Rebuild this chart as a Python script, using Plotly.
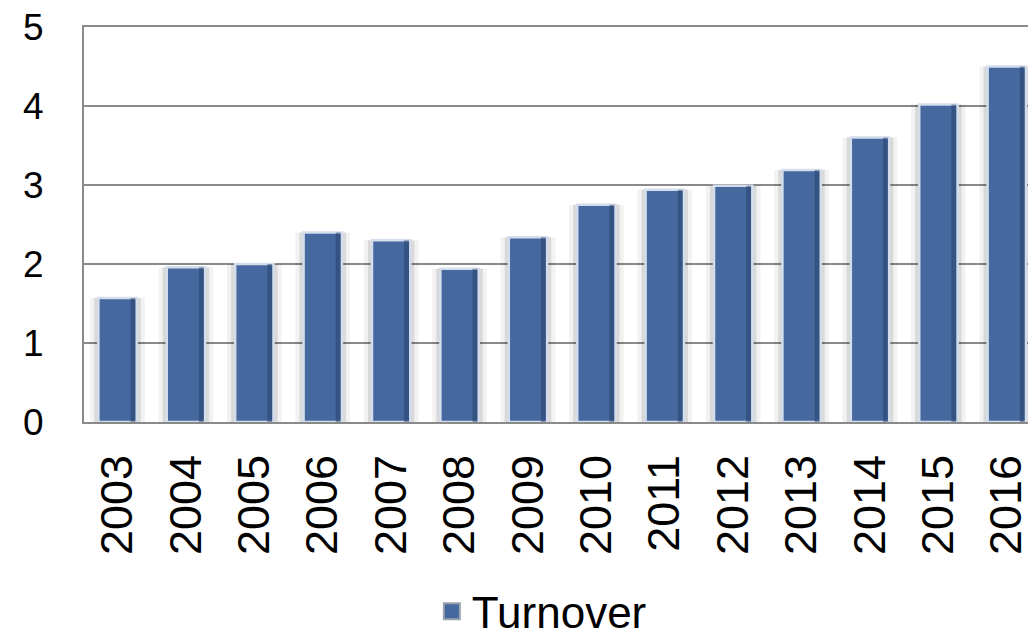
import plotly.graph_objects as go

years = ["2003", "2004", "2005", "2006", "2007", "2008", "2009",
         "2010", "2011", "2012", "2013", "2014", "2015", "2016"]
turnover = [1.57, 1.96, 2.0, 2.4, 2.3, 1.94, 2.34,
            2.75, 2.94, 2.99, 3.19, 3.6, 4.02, 4.5]
y_ticks = [0, 1, 2, 3, 4, 5]

BAR_COLOR = "#45699f"
EDGE_COLOR = "#d3ddec"

fig = go.Figure()

# soft shadow behind bars
fig.add_trace(go.Bar(x=years, y=turnover, width=0.80, showlegend=False,
                     hoverinfo="skip",
                     marker=dict(color="rgba(0,0,0,0.05)", line=dict(width=0))))
fig.add_trace(go.Bar(x=years, y=turnover, width=0.68, showlegend=False,
                     hoverinfo="skip",
                     marker=dict(color="rgba(0,0,0,0.10)", line=dict(width=0))))
# main bars
fig.add_trace(go.Bar(x=years, y=turnover, width=0.56, name="Turnover",
                     showlegend=False,
                     marker=dict(color=BAR_COLOR,
                                 line=dict(color=EDGE_COLOR, width=2.5))))
# darker bevel on the right side of each bar
fig.add_trace(go.Bar(x=years, y=turnover, width=0.07, offset=0.19,
                     showlegend=False, hoverinfo="skip",
                     marker=dict(color="rgba(30,55,95,0.45)", line=dict(width=0))))
# legend key (no data, only the legend swatch)
fig.add_trace(go.Scatter(x=[None], y=[None], mode="markers", name="Turnover",
                         marker=dict(symbol="square", size=16, color=BAR_COLOR,
                                     line=dict(color="#9aa3ad", width=2))))

fig.update_layout(
    width=1028, height=637,
    barmode="overlay",
    paper_bgcolor="white", plot_bgcolor="white",
    margin=dict(l=84, r=0, t=27, b=215, autoexpand=False),
    font=dict(family="Liberation Sans, Arial, sans-serif", color="black"),
    showlegend=True,
    legend=dict(orientation="h", x=0.485, xanchor="center", y=-0.48,
                yanchor="middle", font=dict(size=44), itemsizing="trace"),
    xaxis=dict(range=[-0.49, 13.31], tickangle=-90, tickfont=dict(size=45),
               showline=True, mirror=True, linecolor="#8a8a8a", linewidth=2,
               showgrid=False, ticks="", ticklabelstandoff=13, automargin=False,
               ticklabeloverflow="allow"),
    yaxis=dict(range=[0, 5], tickvals=y_ticks, tickfont=dict(size=37),
               showline=True, linecolor="#8a8a8a", linewidth=2,
               showgrid=True, gridcolor="#8a8a8a", gridwidth=1.5,
               zeroline=False, ticks="", ticklabelstandoff=31, automargin=False,
               ticklabeloverflow="allow"),
)

fig.write_html(
    "out.html",
    config={"displayModeBar": False},
    post_script="document.body.style.margin='0';document.body.style.overflow='hidden';",
)
